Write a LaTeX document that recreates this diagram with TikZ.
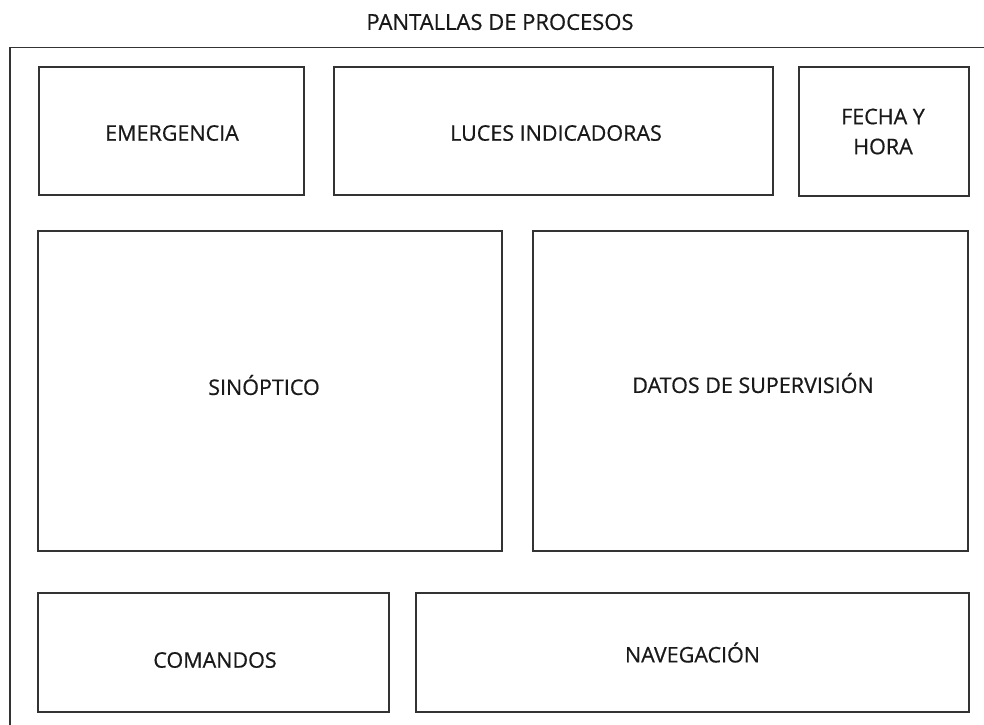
\documentclass[tikz,border=0pt]{standalone}
\usepackage{fontspec}
\setmainfont{Open Sans}[FakeBold=0.6]
\begin{document}
\begin{tikzpicture}[x=1pt,y=-1pt,
  frame/.style={draw=black!80,line width=1.7pt},
  box/.style={draw=black!80,line width=1.7pt,inner sep=0pt},
  lbl/.style={align=center,inner sep=0pt,
    font=\fontsize{21.5}{30}\selectfont,text=black!90},
  ttl/.style={font=\fontsize{22}{24}\selectfont,text=black!90}]
\useasboundingbox (0,0) rectangle (984,724);
\fill[white] (0,0) rectangle (984,724);
\coordinate (fbl) at (10,730);
\coordinate (ftl) at (10,47.5);
\coordinate (ftr) at (990,47.5);
\draw[frame] (fbl) -- (ftl) -- (ftr);
\node[ttl] (title) at (500,22) {PANTALLAS DE PROCESOS};
\node[box,minimum width=265pt,minimum height=128pt,
  label={[lbl,xshift=0.5pt,yshift=-2pt]center:EMERGENCIA}] (emer) at (171.5,131) {};
\node[box,minimum width=439pt,minimum height=128pt,
  label={[lbl,xshift=2.5pt,yshift=-2pt]center:LUCES INDICADORAS}] (luces) at (553.5,131) {};
\node[box,minimum width=170pt,minimum height=129pt,
  label={[lbl,xshift=-1pt]center:FECHA Y\\HORA}] (fecha) at (884,131.5) {};
\node[box,minimum width=464pt,minimum height=320pt,
  label={[lbl,xshift=-6pt,yshift=6pt]center:SINÓPTICO}] (sin) at (270,391) {};
\node[box,minimum width=435pt,minimum height=320pt,
  label={[lbl,xshift=2.5pt,yshift=8pt]center:DATOS DE SUPERVISIÓN}] (datos) at (750.5,391) {};
\node[box,minimum width=351pt,minimum height=119pt,
  label={[lbl,xshift=1.5pt,yshift=-7.5pt]center:COMANDOS}] (com) at (213.5,652.5) {};
\node[box,minimum width=553pt,minimum height=119pt,
  label={[lbl]center:NAVEGACIÓN}] (nav) at (692.5,652.5) {};
\end{tikzpicture}
\end{document}
